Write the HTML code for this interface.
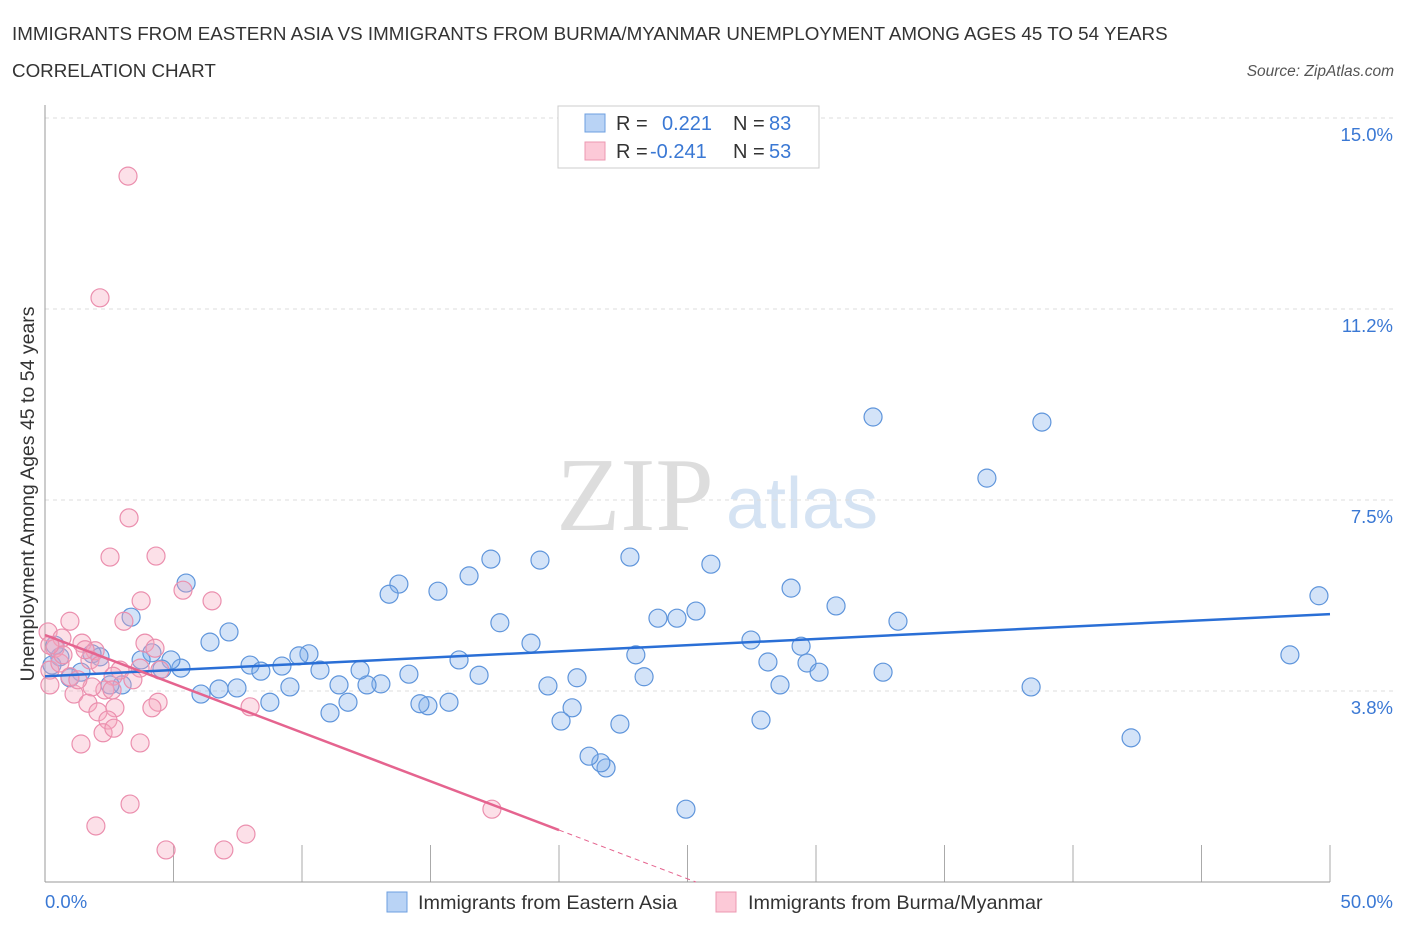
<!DOCTYPE html>
<html><head><meta charset="utf-8"><style>
body{margin:0;background:#fff;font-family:"Liberation Sans",sans-serif}
</style></head><body>
<svg width="1406" height="930" xmlns="http://www.w3.org/2000/svg">
<text x="12" y="40" font-size="18.8" fill="#333">IMMIGRANTS FROM EASTERN ASIA VS IMMIGRANTS FROM BURMA/MYANMAR UNEMPLOYMENT AMONG AGES 45 TO 54 YEARS</text>
<text x="12" y="77" font-size="18.8" fill="#333">CORRELATION CHART</text>
<text x="1394" y="76" font-size="15.5" fill="#555" font-style="italic" text-anchor="end">Source: ZipAtlas.com</text>
<text x="635" y="530" font-size="105" fill="#ddd" font-family="Liberation Serif,serif" text-anchor="middle">ZIP</text>
<text x="802" y="528" font-size="72" fill="#d5e3f3" text-anchor="middle">atlas</text>
<g id="grid"></g>
<line x1="45" y1="105" x2="45" y2="882" stroke="#999"/>
<line x1="45" y1="882" x2="1330" y2="882" stroke="#999"/>
<text transform="translate(34,494) rotate(-90)" font-size="19.5" fill="#333" text-anchor="middle">Unemployment Among Ages 45 to 54 years</text>
<text x="45" y="908" font-size="18.5" fill="#3a78d4">0.0%</text>
<text x="1393" y="908" font-size="18.5" fill="#3a78d4" text-anchor="end">50.0%</text>
<g id="pts"></g>
<g id="lines"></g>
<g>
<rect x="558" y="106" width="261" height="62" fill="#fff" stroke="#ccc"/>
<rect x="585" y="114" width="20" height="18" fill="#b9d3f5" stroke="#6d9fe0"/>
<rect x="585" y="142" width="20" height="18" fill="#fcc9d7" stroke="#ec98b2"/>
<text x="616" y="130" font-size="20" fill="#333">R =</text><text x="662" y="130" font-size="20" fill="#3a78d4">0.221</text>
<text x="733" y="130" font-size="20" fill="#333">N =</text><text x="769" y="130" font-size="20" fill="#3a78d4">83</text>
<text x="616" y="158" font-size="20" fill="#333">R =</text><text x="650" y="158" font-size="20" fill="#3a78d4">-0.241</text>
<text x="733" y="158" font-size="20" fill="#333">N =</text><text x="769" y="158" font-size="20" fill="#3a78d4">53</text>
</g>
<g>
<rect x="387" y="892" width="20" height="20" fill="#b9d3f5" stroke="#6d9fe0"/>
<text x="418" y="909" font-size="19.8" fill="#333">Immigrants from Eastern Asia</text>
<rect x="716" y="892" width="20" height="20" fill="#fcc9d7" stroke="#ec98b2"/>
<text x="748" y="909" font-size="19.8" fill="#333">Immigrants from Burma/Myanmar</text>
</g>
</svg>
<script>
const yTicks=[3.75,7.5,11.25,15];
const yTickLabels=["3.8%","7.5%","11.2%","15.0%"];
const xTicks=[0,5,10,15,20,25,30,35,40,45,50];
const blueX=[32.22,38.79,36.65,49.57,48.44,38.37,42.26,33.19,32.61,30.78,29.03,29.42,29.65,30.12,28.60,27.86,27.47,28.13,25.91,25.33,24.59,23.85,22.76,22.99,23.31,22.37,24.94,21.83,21.63,21.17,20.51,20.08,20.70,19.57,19.26,18.91,17.70,17.35,16.89,16.50,16.11,15.72,14.90,14.59,15.29,13.77,13.39,14.16,13.07,12.53,12.26,11.79,11.44,11.09,10.70,10.27,9.88,9.22,9.53,8.75,7.98,8.40,7.47,6.77,6.07,7.16,6.42,5.49,5.29,4.90,4.55,4.16,3.74,3.35,3.00,2.53,2.14,1.83,1.40,0.97,0.58,0.27,0.39];
const blueY=[9.13,9.03,7.93,5.62,4.46,3.83,2.83,5.12,4.12,5.42,5.77,4.63,4.30,4.12,3.87,3.18,4.75,4.32,6.24,5.32,5.18,5.18,6.38,4.46,4.03,3.10,1.43,2.24,2.34,2.47,3.42,3.16,4.01,3.85,6.32,4.69,5.09,6.34,4.06,6.01,4.36,3.53,3.46,3.50,5.71,5.85,5.65,4.08,3.89,3.87,4.16,3.53,3.87,3.32,4.16,4.48,4.44,4.24,3.83,3.53,4.26,4.14,3.81,3.79,3.69,4.91,4.71,5.87,4.20,4.36,4.18,4.50,4.36,5.20,3.87,3.87,4.42,4.48,4.12,4.01,4.42,4.26,4.65];
const pinkX=[3.23,2.14,3.27,2.53,4.32,3.74,5.37,6.50,3.07,0.97,0.12,0.66,1.44,0.39,1.95,3.89,4.28,1.75,2.14,2.92,3.70,0.19,0.58,2.65,3.42,4.47,2.33,1.83,0.97,0.19,1.13,1.67,2.06,2.72,2.45,4.40,4.16,7.98,2.61,2.26,2.68,1.40,3.70,3.31,1.98,7.82,4.71,6.96,17.39,0.70,1.28,0.19,1.56];
const pinkY=[13.86,11.47,7.15,6.38,6.40,5.52,5.73,5.52,5.12,5.12,4.91,4.79,4.69,4.59,4.54,4.69,4.59,4.36,4.26,4.16,4.20,4.16,4.30,4.04,3.97,4.16,3.77,3.83,4.03,3.87,3.69,3.51,3.34,3.42,3.18,3.53,3.42,3.44,3.77,2.93,3.02,2.71,2.73,1.53,1.10,0.94,0.63,0.63,1.43,4.46,3.97,4.65,4.56];
const blueTrend=[4.04,0.0244];
const pinkTrend=[4.85,-0.1915];
const NS="http://www.w3.org/2000/svg";
const sx=v=>45+v*25.7, sy=v=>882-v*50.93;
function mk(t,a,p){const e=document.createElementNS(NS,t);for(const k in a)e.setAttribute(k,a[k]);p.appendChild(e);return e;}
const grid=document.getElementById('grid');
yTicks.forEach((t,i)=>{
 const l=mk('line',{x1:45,x2:1394,y1:sy(t),y2:sy(t),stroke:'#ddd','stroke-dasharray':'4,4'},grid);
 
 
 const tx=mk('text',{x:1393,y:sy(t)+23,'font-size':18.5,fill:'#3a78d4','text-anchor':'end'},grid);
 tx.textContent=yTickLabels[i];
 
 
});
xTicks.forEach(t=>{
 const l=mk('line',{x1:sx(t),x2:sx(t),y1:845,y2:882,stroke:'#aaa'},grid);
 
 
});
const pts=document.getElementById('pts');
blueX.forEach((x,i)=>{
 const c=mk('circle',{cx:sx(x),cy:sy(blueY[i]),r:9,fill:'rgba(130,175,235,0.35)',stroke:'#5f95db','stroke-width':1.2},pts);
 
 
});
pinkX.forEach((x,i)=>{
 const c=mk('circle',{cx:sx(x),cy:sy(pinkY[i]),r:9,fill:'rgba(245,165,190,0.35)',stroke:'#eb8fae','stroke-width':1.2},pts);
 
 
});
const ln=document.getElementById('lines');
const b=mk('line',{x1:sx(0),y1:sy(blueTrend[0]),x2:sx(50),y2:sy(blueTrend[0]+50*blueTrend[1]),stroke:'#2a6fd6','stroke-width':2.5},ln);


const pEnd=20, pZero=-pinkTrend[0]/pinkTrend[1];
const p=mk('line',{x1:sx(0),y1:sy(pinkTrend[0]),x2:sx(pEnd),y2:sy(pinkTrend[0]+pEnd*pinkTrend[1]),stroke:'#e5648f','stroke-width':2.5},ln);


const pd=mk('line',{x1:sx(pEnd),y1:sy(pinkTrend[0]+pEnd*pinkTrend[1]),x2:sx(pZero),y2:sy(0),stroke:'#e5648f','stroke-width':1,'stroke-dasharray':'5,4'},ln);


</script>
</body></html>
